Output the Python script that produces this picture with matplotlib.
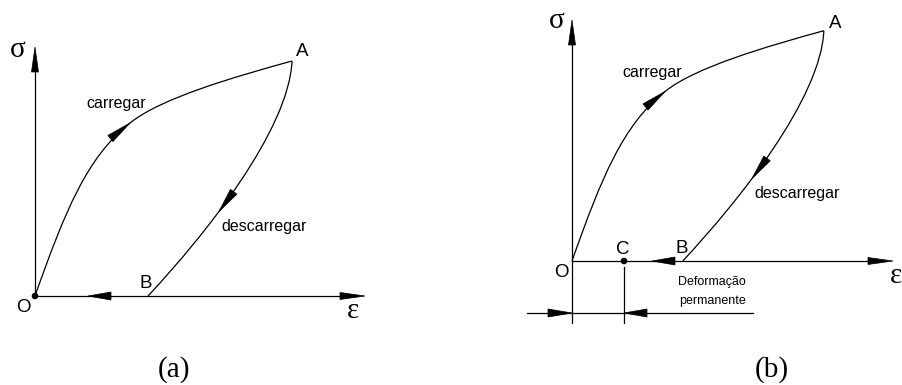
import matplotlib.pyplot as plt
import numpy as np
from matplotlib.path import Path
from matplotlib.patches import PathPatch, Polygon, Circle

W, H = 902, 385

# stress-strain loop, pixels measured from O (x = strain to the right, y = stress upward)
carregar_ctrl = [(0, 0), (30, 85), (52, 139), (95, 173), (126, 198), (199, 219), (257, 235)]
descarregar_ctrl = [(257, 235), (254, 166), (170, 61), (113, 0)]
descarregar_arrow_t = 0.62

# per panel: origin O, scale of the loop, axis ends
origins = [(35, 296), (572, 261)]
scales = [1.0, 0.98]
sigma_tip = [47, 20]
sigma_bottom = [296, 323]
eps_tip = [365, 893]
back_tip = [88, 652]          # arrow on the strain axis pointing back to O

# panel (b) extras: point C and the permanent set dimension
c_x = 624
c_line = (267, 323)
dim_y = 313
dim_span = (527, 753)

SANS = 'Liberation Sans'
SERIF = 'Liberation Serif'


def bez(p, t):
    p = np.asarray(p, float)
    return ((1 - t) ** 3 * p[0] + 3 * (1 - t) ** 2 * t * p[1]
            + 3 * (1 - t) * t ** 2 * p[2] + t ** 3 * p[3])


def bez_d(p, t):
    p = np.asarray(p, float)
    return (3 * (1 - t) ** 2 * (p[1] - p[0]) + 6 * (1 - t) * t * (p[2] - p[1])
            + 3 * t ** 2 * (p[3] - p[2]))


def to_px(pts, origin, s):
    return [(origin[0] + s * x, origin[1] - s * y) for x, y in pts]


def head(ax, tip, d, length=24, hw=4):
    d = np.asarray(d, float)
    d = d / np.hypot(*d)
    n = np.array([-d[1], d[0]])
    tip = np.asarray(tip, float)
    base = tip - length * d
    ax.add_patch(Polygon([tip, base + hw * n, base - hw * n], closed=True,
                         fc='black', ec='black', lw=0.5))


fig = plt.figure(figsize=(W / 100, H / 100), dpi=100)
ax = fig.add_axes([0, 0, 1, 1])
ax.set_xlim(0, W)
ax.set_ylim(H, 0)
ax.axis('off')

lw = 0.9
for i in range(2):
    ox, oy = origins[i]
    s = scales[i]

    # axes
    ax.plot([ox, ox], [sigma_bottom[i], sigma_tip[i] + 10], color='black', lw=lw)
    head(ax, (ox, sigma_tip[i]), (0, -1), length=25, hw=3.5)
    ax.plot([ox, eps_tip[i] - 10], [oy, oy], color='black', lw=lw)
    head(ax, (eps_tip[i], oy), (1, 0), length=25, hw=3.5)
    head(ax, (back_tip[i], oy), (-1, 0), length=23, hw=4)

    # loading curve O -> A
    cp = to_px(carregar_ctrl, (ox, oy), s)
    codes = [Path.MOVETO] + [Path.CURVE4] * 6
    ax.add_patch(PathPatch(Path(cp, codes), fc='none', ec='black', lw=lw))
    head(ax, cp[3], np.subtract(cp[3], cp[2]), length=25, hw=4)

    # unloading curve A -> B
    dp = to_px(descarregar_ctrl, (ox, oy), s)
    ax.add_patch(PathPatch(Path(dp, [Path.MOVETO] + [Path.CURVE4] * 3),
                           fc='none', ec='black', lw=lw))
    head(ax, bez(dp, descarregar_arrow_t), bez_d(dp, descarregar_arrow_t),
         length=25, hw=4)

# origin dot on (a)
ax.add_patch(Circle(origins[0], 2.6, color='black'))

# point C and the dimension line on (b)
ax.add_patch(Circle((c_x, origins[1][1]), 2.6, color='black'))
ax.plot([c_x, c_x], c_line, color='black', lw=lw)
ax.plot(dim_span, [dim_y, dim_y], color='black', lw=lw)
head(ax, (origins[1][0], dim_y), (1, 0), length=24, hw=4)
head(ax, (c_x, dim_y), (-1, 0), length=23, hw=4)

# labels
big = 21
ax.text(18, 57, 'σ', fontsize=big, family=SERIF, ha='center', va='baseline')
ax.text(353, 318, 'ε', fontsize=big, family=SERIF, ha='center', va='baseline')
ax.text(557, 28, 'σ', fontsize=big, family=SERIF, ha='center', va='baseline')
ax.text(896, 283, 'ε', fontsize=big, family=SERIF, ha='center', va='baseline')

lab = 13.5
for x, y, t in [(302, 56, 'A'), (146, 288, 'B'), (23, 312, 'O'),
                (835, 28, 'A'), (682, 253, 'B'), (561, 277, 'O'), (623, 254, 'C')]:
    ax.text(x, y, t, fontsize=lab, family=SANS, ha='center', va='baseline')

word = 11.5
for x, y, t in [(116, 108, 'carregar'), (264, 231, 'descarregar'),
                (652, 77, 'carregar'), (797, 198, 'descarregar')]:
    ax.text(x, y, t, fontsize=word, family=SANS, ha='center', va='baseline')

ax.text(712, 285, 'Deformação', fontsize=9, family=SANS, ha='center', va='baseline')
ax.text(713, 304, 'permanente', fontsize=9, family=SANS, ha='center', va='baseline')

ax.text(174, 377, '(a)', fontsize=big, family=SERIF, ha='center', va='baseline')
ax.text(772, 377, '(b)', fontsize=big, family=SERIF, ha='center', va='baseline')

fig.savefig('out.png', dpi=100)
